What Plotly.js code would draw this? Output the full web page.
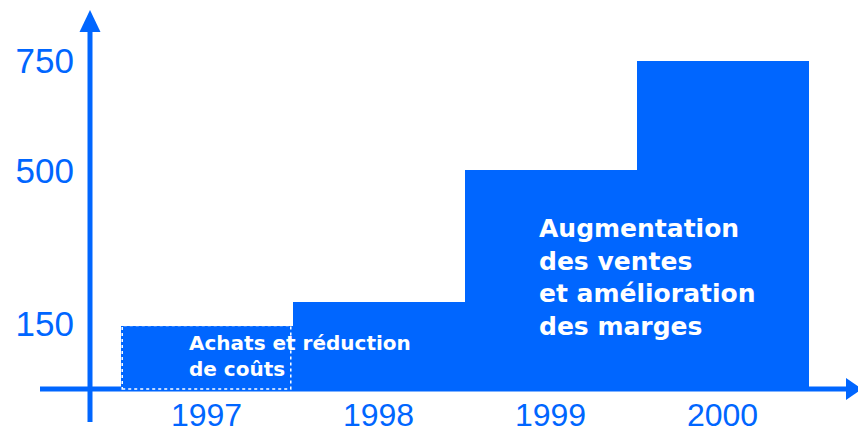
<!DOCTYPE html>
<html><head><meta charset="utf-8">
<script src="https://cdn.plot.ly/plotly-3.0.1.min.js"></script>
<style>html,body{margin:0;padding:0;background:#fff}#chart{width:858px;height:437px}</style>
</head><body><div id="chart"></div>
<script>
// ---- data ----
const years = [1997, 1998, 1999, 2000];
const values = [145, 200, 500, 750];
const yTickVals = [150, 500, 750];
const yTickText = ['150', '500', '750'];
const xTickText = ['1997', '1998', '1999', '2000'];
const noteAchats = 'Achats et réduction<br>de coûts';
const noteVentes = 'Augmentation<br>des ventes<br>et amélioration<br>des marges';

// ---- layout helpers ----
const W = 858, H = 437;
const BLUE = '#0066FF';
const px = x => x / W, py = y => (H - y) / H;
const barW = 1;

const trace = {
  type: 'bar', x: years, y: values, width: barW,
  marker: {color: BLUE, line: {width: 0}},
  hoverinfo: 'skip'
};

const shapes = [
  // y axis line
  {type: 'line', xref: 'paper', yref: 'paper', x0: px(90), x1: px(90), y0: py(422), y1: py(28),
   line: {color: BLUE, width: 5}, layer: 'above'},
  // x axis line
  {type: 'line', xref: 'paper', yref: 'paper', x0: px(40), x1: px(850), y0: py(389), y1: py(389),
   line: {color: BLUE, width: 5}, layer: 'above'},
  // y arrow head
  {type: 'path', xref: 'paper', yref: 'paper', layer: 'above',
   path: `M ${px(90)},${py(10)} L ${px(79.5)},${py(32)} L ${px(100.5)},${py(32)} Z`,
   fillcolor: BLUE, line: {width: 0}},
  // x arrow head
  {type: 'path', xref: 'paper', yref: 'paper', layer: 'above',
   path: `M ${px(862)},${py(389)} L ${px(846)},${py(378)} L ${px(846)},${py(400)} Z`,
   fillcolor: BLUE, line: {width: 0}},
  // dotted outline of the 1997 bar
  {type: 'rect', xref: 'x', yref: 'y', layer: 'above',
   x0: years[0] - barW / 2 + 0.01, x1: years[0] + barW / 2 - 0.01, y0: 0, y1: values[0],
   line: {color: 'white', width: 1.5, dash: 'dot'}}
];

const annFont = (s) => ({family: 'DejaVu Sans', size: s, color: 'white', weight: 'bold'});
const annotations = [
  {xref: 'paper', yref: 'paper', x: px(187), y: py(356), xanchor: 'left', yanchor: 'middle',
   align: 'left', text: noteAchats, showarrow: false, font: annFont(20)},
  {xref: 'paper', yref: 'paper', x: px(537), y: py(277), xanchor: 'left', yanchor: 'middle',
   align: 'left', text: noteVentes, showarrow: false, font: annFont(25)}
];

const pxPerYear = 172, x1997px = 206.5;
const pxPerUnit = 328 / 750, basePx = 389;

const layout = {
  width: W, height: H,
  margin: {l: 0, r: 0, t: 0, b: 0},
  paper_bgcolor: 'white', plot_bgcolor: 'white',
  showlegend: false, bargap: 0,
  xaxis: {
    range: [1997 - x1997px / pxPerYear, 1997 + (W - x1997px) / pxPerYear],
    anchor: 'free', position: py(389),
    tickvals: years, ticktext: xTickText, ticks: '',
    showgrid: false, zeroline: false, showline: false,
    tickfont: {family: 'Liberation Sans', size: 32, color: BLUE},
    ticklabelstandoff: 4, automargin: false, fixedrange: true
  },
  yaxis: {
    range: [-(H - basePx) / pxPerUnit, basePx / pxPerUnit],
    anchor: 'free', position: px(90),
    tickvals: yTickVals, ticktext: yTickText, ticks: '',
    showgrid: false, zeroline: false, showline: false,
    tickfont: {family: 'Liberation Sans', size: 35, color: BLUE},
    ticklabelstandoff: 16, automargin: false, fixedrange: true
  },
  shapes: shapes,
  annotations: annotations
};

Plotly.newPlot('chart', [trace], layout, {staticPlot: true, displayModeBar: false});
</script>
</body></html>
